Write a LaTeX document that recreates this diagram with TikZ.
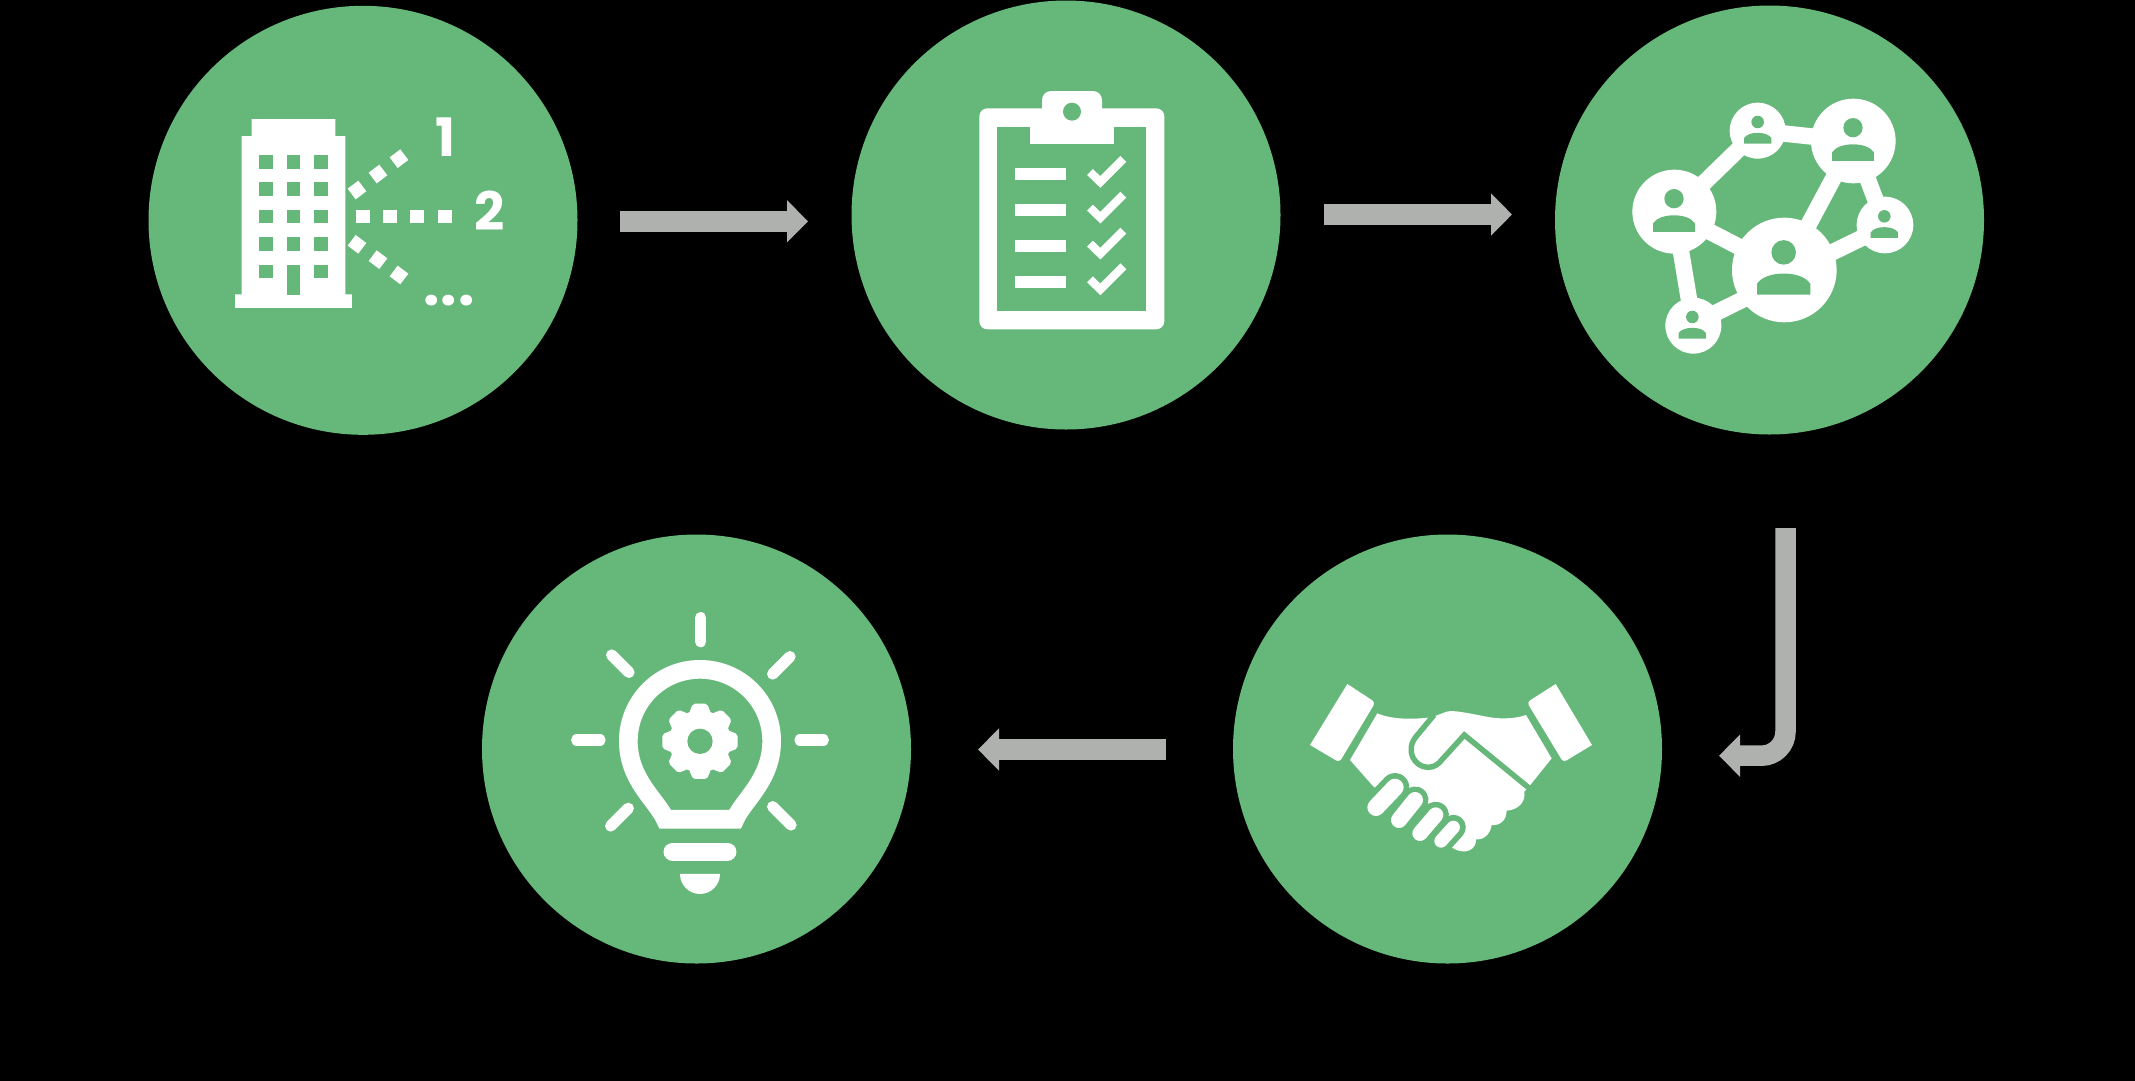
\documentclass[tikz,border=0pt]{standalone}
\usepackage{fontspec}
\newfontfamily\iconfont{Poppins}
\usetikzlibrary{arrows.meta}
\definecolor{leaf}{HTML}{66B87A}
\definecolor{flowgray}{HTML}{AFB1AF}
\tikzset{
  disc/.style={circle,fill=leaf,draw=none,minimum size=429pt,inner sep=0pt},
  flow/.style={draw=flowgray,line width=20.5pt,-{Triangle[length=21pt,width=41pt,fill=flowgray]}},
  inch/.style={fill=white,draw=none},
  hole/.style={fill=leaf,draw=none},
  ray/.style={draw=white,line width=11.3pt,line cap=round},
  linkbar/.style={draw=white,line width=16.5pt},
  tick/.style={draw=white,line width=8.3pt,line join=miter},
  digit/.style={text=white,anchor=base,inner sep=0pt,font=\iconfont\bfseries\fontsize{53}{53}\selectfont},
  zoomed/.style={shift={#1},x=0.3333pt,y=-0.3333pt}
}
\newcommand{\netperson}[3]{%
  \begin{scope}[shift={(#1,#2)},scale=#3]
    \fill[hole] (0,-40) circle[radius=29];
    \fill[hole] (-63,60) -- (-63,34) .. controls (-52,18) and (-28,10) .. (0,10) .. controls (28,10) and (52,18) .. (63,34) -- (63,60) -- cycle;
  \end{scope}}
\begin{document}
\begin{tikzpicture}[x=1pt,y=-1pt]
\useasboundingbox (0,0) rectangle (2135,1080);
\fill[black] (-6,-6) rectangle (2141,1086);
% discs
\node[disc] (c1) at (363,220.3) {};
\node[disc] (c2) at (1066,215) {};
\node[disc] (c3) at (1769.5,220) {};
\node[disc] (c4) at (1447.5,749) {};
\node[disc] (c5) at (696.5,749) {};
% connectors
\coordinate (a1s) at (620,221.3); \coordinate (a1e) at (808,221.3);
\coordinate (a2s) at (1324,214.5); \coordinate (a2e) at (1512,214.5);
\coordinate (a3s) at (1785.5,528); \coordinate (a3c) at (1785.5,755.7); \coordinate (a3e) at (1719,755.7);
\coordinate (a4s) at (1166,749.5); \coordinate (a4e) at (978,749.5);
\draw[flow] (a1s) -- (a1e);
\draw[flow] (a2s) -- (a2e);
\draw[flow,rounded corners=24pt] (a3s) -- (a3c) -- (a3e);
\draw[flow] (a4s) -- (a4e);
% building icon
\begin{scope}[zoomed={(210,100)}]
  \fill[inch] (125,57) -- (376,57) -- (376,108) -- (406,108) -- (406,583) -- (426,583) -- (426,624) -- (75,624) -- (75,583) -- (95,583) -- (95,108) -- (125,108) -- cycle;
  \foreach \wx in {147,230,313} \foreach \wy in {165,247,330,412,495}
    \fill[hole] (\wx,\wy) rectangle ++(41,40.5);
  \fill[hole] (230,495) rectangle (270,586);
  \foreach \sx in {438,520,601,684} \fill[inch] (\sx,330) rectangle ++(41,40.5);
  \foreach \dx/\dy in {441/270,504/222,567/176}
    \fill[inch,shift={(\dx,\dy)},rotate=37] (-20,-20) rectangle (20,20);
  \foreach \dx/\dy in {441/433,504/479,567/525}
    \fill[inch,shift={(\dx,\dy)},rotate=-37] (-20,-20) rectangle (20,20);
  \node[digit] (n1) at (705,168) {1};
  \node[digit] (n2) at (840,393) {2};
  \node[digit,font=\iconfont\bfseries\fontsize{58}{58}\selectfont] (n3) at (717,616) {.\kern1pt.\kern1pt.};
\end{scope}
% clipboard icon
\begin{scope}[zoomed={(960,80)}]
  \fill[inch,rounded corners=8pt] (58,85) rectangle (613,748);
  \fill[hole] (112,140) rectangle (559,693);
  \fill[inch,rounded corners=9pt] (246,110) -- (246,33) -- (426,33) -- (426,110) -- cycle;
  \fill[inch] (210,110) rectangle (461,193);
  \fill[hole] (336,95) circle[radius=27];
  \foreach \off in {0,107,215,322} {
    \fill[inch] (166,265+\off) rectangle (318,301+\off);
    \draw[tick] (390,{276+\off}) -- (421,{306+\off}) -- (490,{237+\off});
  }
\end{scope}
% network icon
\begin{scope}[zoomed={(1610,85)}]
  \draw[linkbar] (193,380) -- (443,137) -- (730,168) -- (523,555);
  \draw[linkbar] (193,385) -- (523,556);
  \draw[linkbar] (193,380) -- (250,722);
  \draw[linkbar] (250,717) -- (523,582);
  \draw[linkbar] (523,572) -- (825,425);
  \draw[linkbar] (825,420) -- (730,168);
  \fill[inch] (193,380) circle[radius=126];
  \fill[inch] (443,137) circle[radius=84];
  \fill[inch] (730,168) circle[radius=127];
  \fill[inch] (523,555) circle[radius=157];
  \fill[inch] (825,420) circle[radius=85];
  \fill[inch] (250,722) circle[radius=84];
  \netperson{192}{381}{1}
  \netperson{729}{168}{1}
  \netperson{521}{553}{1.27}
  \netperson{443}{137}{0.65}
  \netperson{823}{420}{0.65}
  \netperson{247}{722}{0.65}
\end{scope}
% handshake icon
\begin{scope}[zoomed={(1290,670)}]
  \fill[inch] (172,42) [rounded corners=3.5pt] -- (256,97) -- (148,277) [sharp corners] -- (60,225) -- cycle;
  \fill[inch] (797,42) [rounded corners=3.5pt] -- (711,97) -- (820,277) [sharp corners] -- (906,225) -- cycle;
  \fill[inch] (262,130) .. controls (310,150) and (370,148) .. (425,142) -- (470,125)
     .. controls (490,118) and (560,135) .. (600,142) .. controls (640,148) and (680,145) .. (708,135)
     -- (785,265) -- (717,350) -- (703,365)
     .. controls (708,395) and (685,420) .. (650,422)
     .. controls (650,450) and (630,468) .. (605,465)
     .. controls (600,495) and (580,510) .. (558,508)
     .. controls (560,535) and (530,558) .. (490,535)
     -- (400,470) -- (330,420) -- (248,347) -- (180,270) -- cycle;
  \draw[leaf,line width=5.5pt] (432,135) -- (378,200) .. controls (345,240) and (372,292) .. (415,292) .. controls (435,292) and (447,280) .. (455,270) -- (523,195) -- (722,358);
  \draw[leaf,line width=28.5pt,line cap=round] (258,412) -- (315,352);
  \draw[leaf,line width=27pt,line cap=round] (327,450) -- (375,390);
  \draw[leaf,line width=26.5pt,line cap=round] (390,490) -- (437,435);
  \draw[leaf,line width=25pt,line cap=round] (453,513) -- (490,472);
  \draw[white,line width=17.3pt,line cap=round] (258,412) -- (315,352);
  \draw[white,line width=16pt,line cap=round] (327,450) -- (375,390);
  \draw[white,line width=15.3pt,line cap=round] (390,490) -- (437,435);
  \draw[white,line width=13.3pt,line cap=round] (453,513) -- (490,472);
\end{scope}
% light bulb icon
\begin{scope}[zoomed={(560,600)}]
  \draw[ray] (422,53) -- (422,125);
  \draw[ray] (50,420) -- (120,420);
  \draw[ray] (720,420) -- (790,420);
  \draw[ray] (155,165) -- (207,217);
  \draw[ray] (690,170) -- (638,222);
  \draw[ray] (205,625) -- (152,678);
  \draw[ray] (638,620) -- (693,675);
  \draw[white,line width=18.7pt,line join=miter]
    (316,658) .. controls (290,600) and (205,540) .. (205,423)
    arc[start angle=180,end angle=360,radius=215]
    .. controls (635,540) and (550,600) .. (525,658) -- cycle;
  \fill[inch] (420,424) circle[radius=93];
  \foreach \a in {0,45,...,315}
    \fill[inch,shift={(420,424)},rotate=\a,rounded corners=2pt] (-33,-85) -- (-21,-113) -- (21,-113) -- (33,-85) -- cycle;
  \fill[hole] (420,424) circle[radius=38];
  \draw[white,line width=18.3pt,line cap=round] (338,755) -- (502,755);
  \fill[inch] (360,822) arc[start angle=180,end angle=0,radius=60] -- cycle;
\end{scope}
\end{tikzpicture}
\end{document}
